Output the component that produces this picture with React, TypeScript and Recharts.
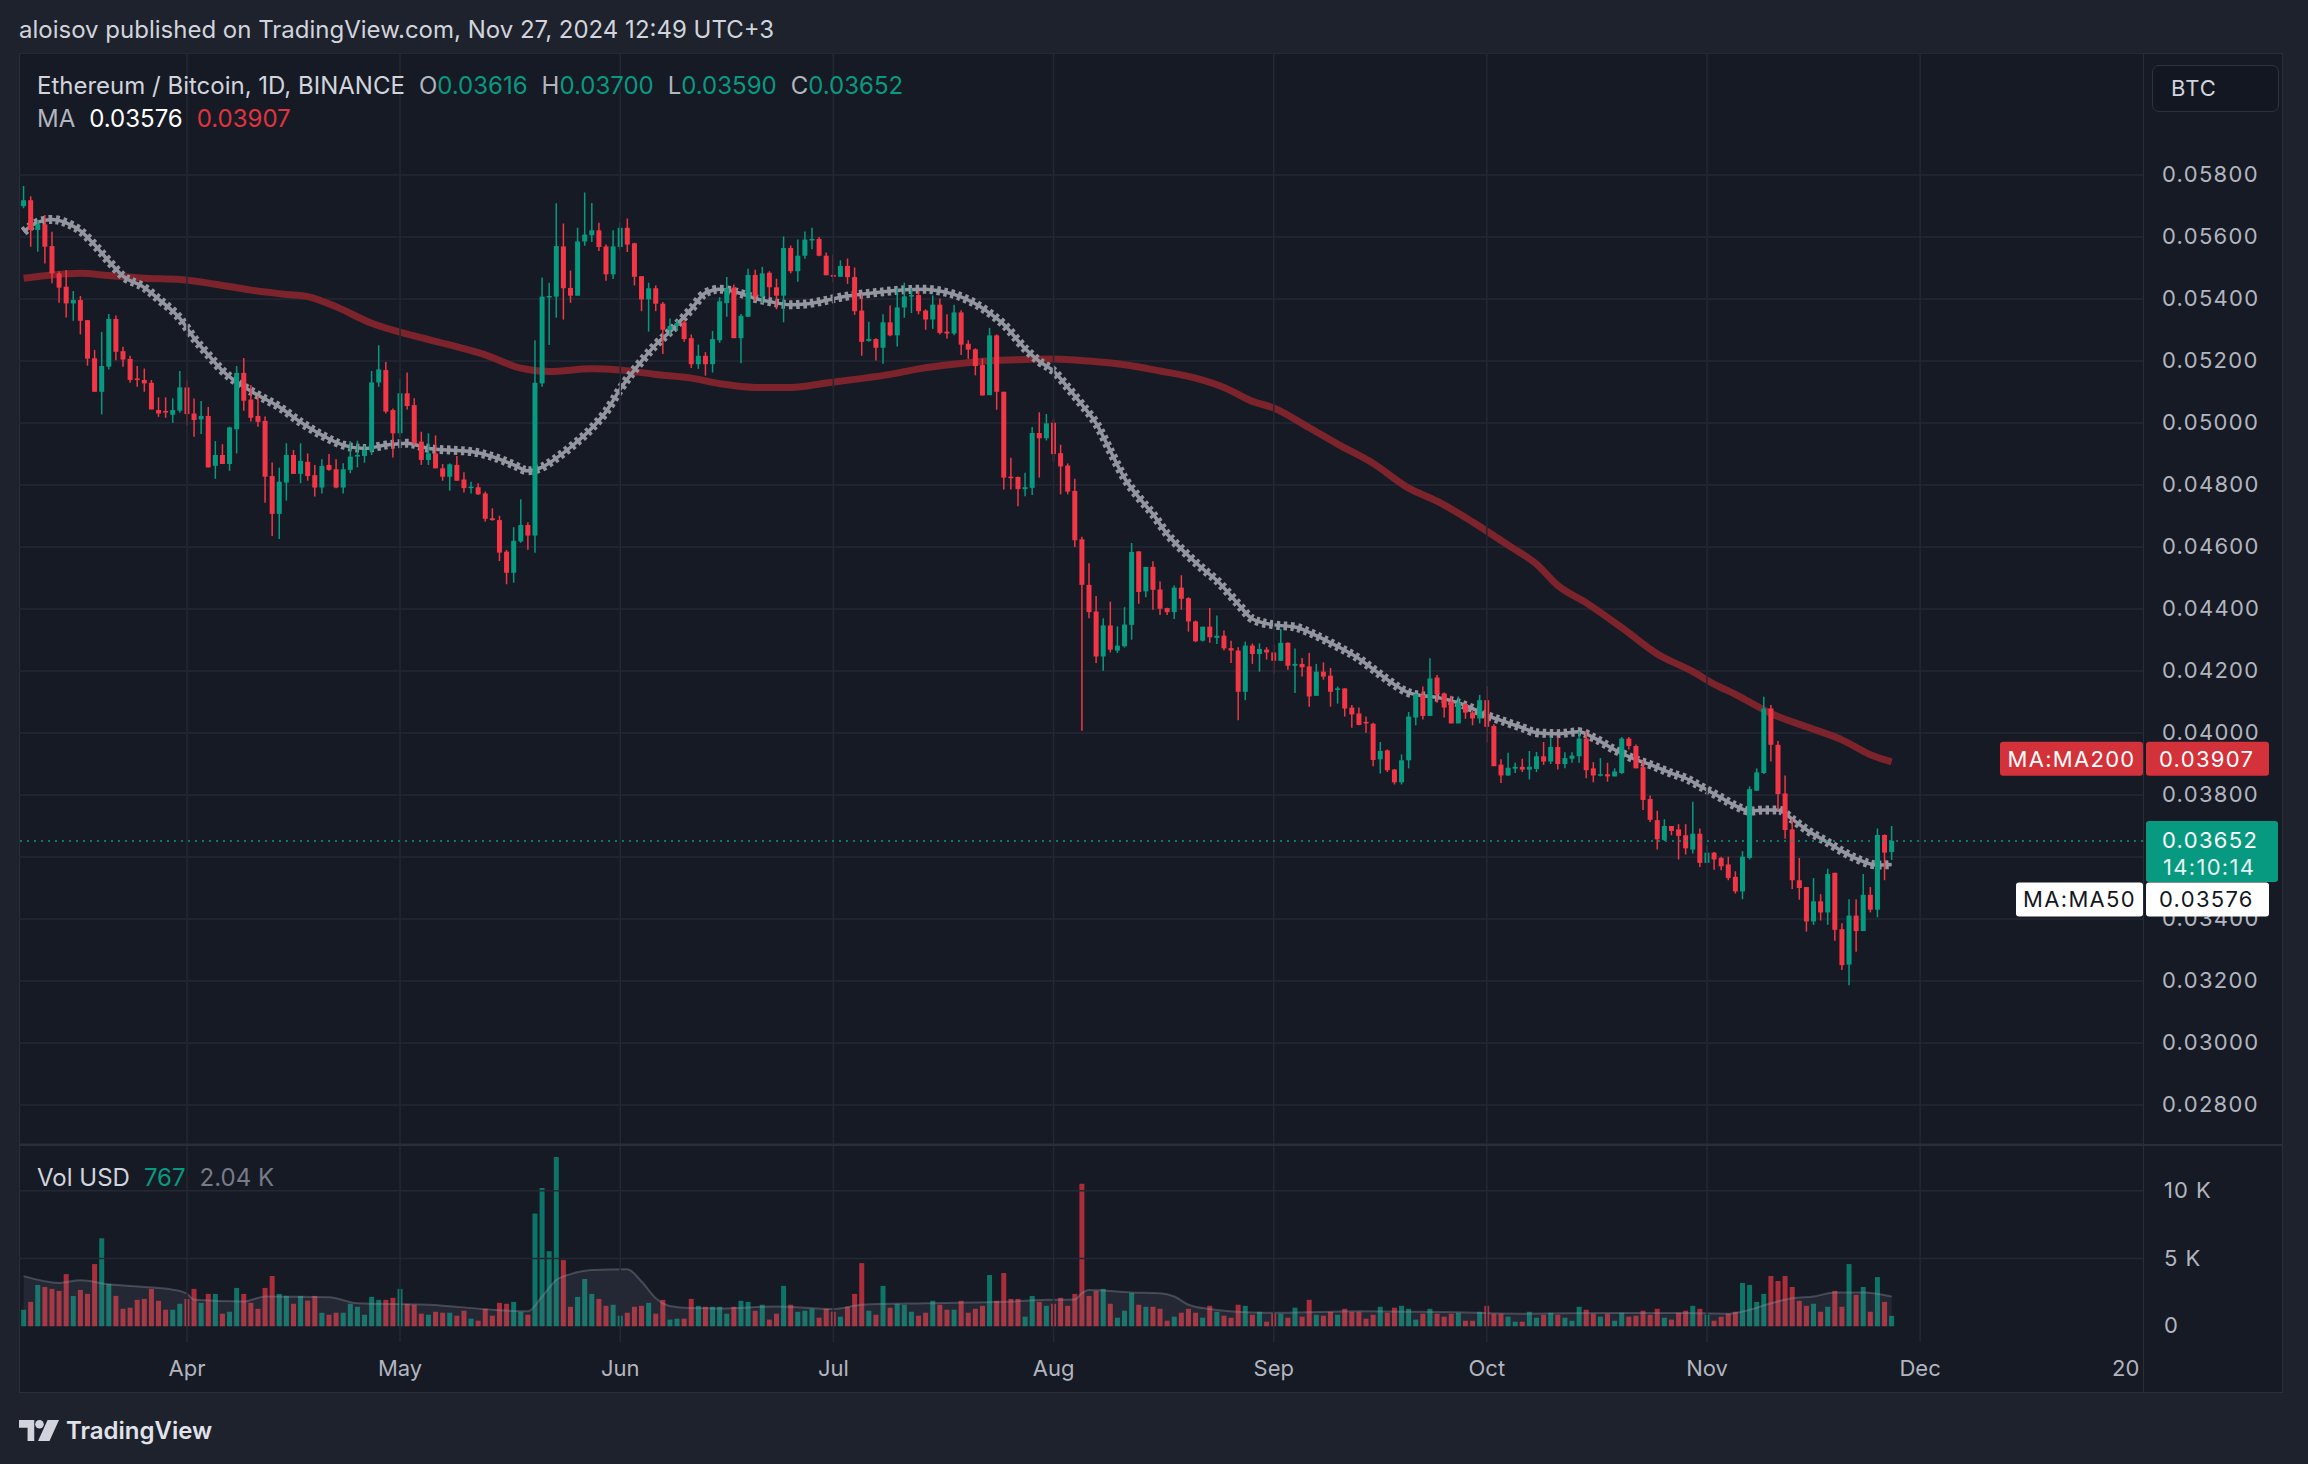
import React from 'react';
import { ComposedChart, Bar, Line, Area, XAxis, YAxis, CartesianGrid, ReferenceLine, Cell } from 'recharts';

// ETH/BTC daily candles, day 0 = Mar 9 2024, last = Nov 27 2024
const opens = [
  0.05700, 0.05719, 0.05623, 0.05641, 0.05571, 0.05483, 0.05440, 0.05386, 0.05397, 0.05332,
  0.05209, 0.05101, 0.05182, 0.05336, 0.05232, 0.05207, 0.05144, 0.05139, 0.05130, 0.05042,
  0.05039, 0.05027, 0.05040, 0.05115, 0.05031, 0.05012, 0.05023, 0.04862, 0.04897, 0.04868,
  0.04980, 0.05162, 0.05076, 0.05023, 0.05007, 0.04829, 0.04707, 0.04808, 0.04897, 0.04836,
  0.04875, 0.04832, 0.04792, 0.04865, 0.04851, 0.04792, 0.04849, 0.04892, 0.04894, 0.04911,
  0.05131, 0.05171, 0.05042, 0.04967, 0.05096, 0.05058, 0.04940, 0.04881, 0.04902, 0.04854,
  0.04827, 0.04865, 0.04818, 0.04790, 0.04793, 0.04773, 0.04693, 0.04687, 0.04585, 0.04517,
  0.04618, 0.04671, 0.04637, 0.05128, 0.05406, 0.05408, 0.05570, 0.05436, 0.05411, 0.05586,
  0.05606, 0.05622, 0.05570, 0.05480, 0.05568, 0.05630, 0.05580, 0.05474, 0.05399, 0.05435,
  0.05385, 0.05301, 0.05313, 0.05325, 0.05274, 0.05190, 0.05217, 0.05190, 0.05267, 0.05387,
  0.05437, 0.05274, 0.05343, 0.05478, 0.05408, 0.05485, 0.05438, 0.05411, 0.05565, 0.05490,
  0.05540, 0.05590, 0.05594, 0.05540, 0.05478, 0.05472, 0.05507, 0.05471, 0.05363, 0.05265,
  0.05271, 0.05243, 0.05325, 0.05283, 0.05373, 0.05409, 0.05413, 0.05363, 0.05334, 0.05382,
  0.05295, 0.05289, 0.05357, 0.05256, 0.05238, 0.05187, 0.05090, 0.05283, 0.05101, 0.04827,
  0.04826, 0.04787, 0.04791, 0.04968, 0.04951, 0.05001, 0.04903, 0.04863, 0.04781, 0.04625,
  0.04478, 0.04392, 0.04247, 0.04347, 0.04266, 0.04280, 0.04349, 0.04586, 0.04457, 0.04536,
  0.04463, 0.04403, 0.04390, 0.04469, 0.04435, 0.04360, 0.04298, 0.04343, 0.04307, 0.04314,
  0.04274, 0.04266, 0.04133, 0.04282, 0.04255, 0.04269, 0.04260, 0.04233, 0.04291, 0.04217,
  0.04223, 0.04215, 0.04120, 0.04198, 0.04185, 0.04139, 0.04144, 0.04082, 0.04063, 0.04036,
  0.04030, 0.03915, 0.03944, 0.03882, 0.03841, 0.03912, 0.04050, 0.04123, 0.04055, 0.04179,
  0.04128, 0.04101, 0.04031, 0.04093, 0.04066, 0.04047, 0.04106, 0.04023, 0.03898, 0.03863,
  0.03885, 0.03891, 0.03882, 0.03884, 0.03925, 0.03908, 0.03955, 0.03900, 0.03917, 0.03925,
  0.03982, 0.03886, 0.03863, 0.03867, 0.03860, 0.03871, 0.03982, 0.03958, 0.03890, 0.03787,
  0.03719, 0.03655, 0.03700, 0.03689, 0.03670, 0.03624, 0.03675, 0.03581, 0.03614, 0.03597,
  0.03576, 0.03536, 0.03489, 0.03597, 0.03814, 0.03871, 0.04079, 0.03962, 0.03805, 0.03689,
  0.03525, 0.03503, 0.03392, 0.03457, 0.03421, 0.03549, 0.03367, 0.03253, 0.03411, 0.03361,
  0.03478, 0.03430, 0.03671, 0.03616,
];

const highs = [
  0.05765, 0.05732, 0.05655, 0.05671, 0.05617, 0.05490, 0.05494, 0.05426, 0.05410, 0.05332,
  0.05236, 0.05294, 0.05352, 0.05347, 0.05246, 0.05217, 0.05184, 0.05176, 0.05139, 0.05083,
  0.05083, 0.05080, 0.05168, 0.05137, 0.05079, 0.05071, 0.05052, 0.04942, 0.04932, 0.04988,
  0.05184, 0.05210, 0.05123, 0.05087, 0.05021, 0.04873, 0.04856, 0.04935, 0.04913, 0.04935,
  0.04902, 0.04865, 0.04883, 0.04900, 0.04883, 0.04870, 0.04942, 0.04943, 0.04929, 0.05168,
  0.05251, 0.05197, 0.05047, 0.05141, 0.05163, 0.05080, 0.04972, 0.04967, 0.04960, 0.04868,
  0.04870, 0.04894, 0.04841, 0.04811, 0.04806, 0.04779, 0.04725, 0.04701, 0.04591, 0.04664,
  0.04754, 0.04680, 0.05267, 0.05470, 0.05453, 0.05709, 0.05644, 0.05492, 0.05630, 0.05744,
  0.05710, 0.05646, 0.05576, 0.05622, 0.05646, 0.05660, 0.05582, 0.05474, 0.05453, 0.05444,
  0.05391, 0.05337, 0.05331, 0.05331, 0.05286, 0.05253, 0.05229, 0.05297, 0.05406, 0.05471,
  0.05447, 0.05352, 0.05498, 0.05495, 0.05504, 0.05490, 0.05466, 0.05602, 0.05573, 0.05592,
  0.05618, 0.05630, 0.05600, 0.05550, 0.05543, 0.05525, 0.05531, 0.05502, 0.05414, 0.05327,
  0.05274, 0.05351, 0.05379, 0.05435, 0.05453, 0.05435, 0.05426, 0.05367, 0.05412, 0.05402,
  0.05351, 0.05382, 0.05364, 0.05267, 0.05241, 0.05208, 0.05307, 0.05286, 0.05101, 0.04888,
  0.04828, 0.04840, 0.04987, 0.05035, 0.05029, 0.05013, 0.04930, 0.04870, 0.04820, 0.04633,
  0.04548, 0.04442, 0.04370, 0.04424, 0.04344, 0.04406, 0.04613, 0.04586, 0.04536, 0.04554,
  0.04489, 0.04404, 0.04476, 0.04509, 0.04438, 0.04363, 0.04343, 0.04403, 0.04379, 0.04331,
  0.04298, 0.04277, 0.04295, 0.04289, 0.04289, 0.04277, 0.04285, 0.04336, 0.04293, 0.04273,
  0.04242, 0.04258, 0.04223, 0.04228, 0.04210, 0.04150, 0.04144, 0.04090, 0.04082, 0.04053,
  0.04033, 0.03971, 0.03947, 0.03884, 0.03931, 0.04068, 0.04128, 0.04150, 0.04241, 0.04187,
  0.04131, 0.04120, 0.04118, 0.04096, 0.04071, 0.04123, 0.04150, 0.04028, 0.03915, 0.03936,
  0.03904, 0.03917, 0.03942, 0.03939, 0.03971, 0.03987, 0.03987, 0.03938, 0.03938, 0.04005,
  0.04005, 0.03906, 0.03919, 0.03904, 0.03886, 0.03987, 0.03987, 0.03963, 0.03911, 0.03798,
  0.03749, 0.03722, 0.03700, 0.03706, 0.03706, 0.03778, 0.03692, 0.03638, 0.03616, 0.03601,
  0.03601, 0.03554, 0.03619, 0.03828, 0.03886, 0.04117, 0.04090, 0.03974, 0.03863, 0.03722,
  0.03597, 0.03503, 0.03532, 0.03480, 0.03562, 0.03549, 0.03386, 0.03464, 0.03464, 0.03545,
  0.03503, 0.03692, 0.03673, 0.03700,
];

const lows = [
  0.05693, 0.05569, 0.05553, 0.05515, 0.05451, 0.05388, 0.05341, 0.05330, 0.05286, 0.05185,
  0.05101, 0.05028, 0.05173, 0.05203, 0.05182, 0.05130, 0.05117, 0.05101, 0.05044, 0.05020,
  0.05017, 0.05001, 0.05033, 0.04992, 0.04956, 0.04965, 0.04857, 0.04820, 0.04868, 0.04846,
  0.04902, 0.05040, 0.05005, 0.04988, 0.04743, 0.04636, 0.04626, 0.04750, 0.04836, 0.04806,
  0.04814, 0.04763, 0.04773, 0.04846, 0.04790, 0.04773, 0.04838, 0.04857, 0.04872, 0.04897,
  0.05117, 0.05031, 0.04889, 0.04954, 0.05044, 0.04929, 0.04865, 0.04865, 0.04854, 0.04814,
  0.04782, 0.04814, 0.04776, 0.04773, 0.04768, 0.04682, 0.04685, 0.04555, 0.04480, 0.04485,
  0.04614, 0.04591, 0.04582, 0.05117, 0.05252, 0.05340, 0.05334, 0.05388, 0.05411, 0.05572,
  0.05584, 0.05555, 0.05459, 0.05465, 0.05558, 0.05552, 0.05444, 0.05361, 0.05295, 0.05361,
  0.05223, 0.05283, 0.05298, 0.05262, 0.05178, 0.05175, 0.05153, 0.05163, 0.05259, 0.05343,
  0.05274, 0.05193, 0.05343, 0.05394, 0.05387, 0.05406, 0.05367, 0.05325, 0.05483, 0.05456,
  0.05530, 0.05561, 0.05538, 0.05477, 0.05454, 0.05472, 0.05449, 0.05349, 0.05217, 0.05262,
  0.05202, 0.05191, 0.05280, 0.05247, 0.05340, 0.05355, 0.05351, 0.05301, 0.05304, 0.05286,
  0.05273, 0.05283, 0.05220, 0.05207, 0.05154, 0.05089, 0.05090, 0.05043, 0.04786, 0.04786,
  0.04732, 0.04764, 0.04768, 0.04824, 0.04944, 0.04876, 0.04770, 0.04770, 0.04600, 0.04007,
  0.04370, 0.04226, 0.04201, 0.04260, 0.04258, 0.04276, 0.04301, 0.04417, 0.04438, 0.04398,
  0.04381, 0.04381, 0.04368, 0.04398, 0.04327, 0.04293, 0.04295, 0.04291, 0.04287, 0.04266,
  0.04226, 0.04041, 0.04106, 0.04223, 0.04198, 0.04237, 0.04190, 0.04233, 0.04204, 0.04129,
  0.04182, 0.04085, 0.04120, 0.04172, 0.04085, 0.04095, 0.04053, 0.04017, 0.04025, 0.04001,
  0.03893, 0.03869, 0.03874, 0.03834, 0.03834, 0.03886, 0.04025, 0.04044, 0.04055, 0.04098,
  0.04050, 0.04031, 0.04031, 0.04046, 0.04025, 0.04031, 0.03969, 0.03893, 0.03839, 0.03861,
  0.03871, 0.03874, 0.03850, 0.03874, 0.03897, 0.03900, 0.03882, 0.03886, 0.03904, 0.03904,
  0.03854, 0.03841, 0.03860, 0.03843, 0.03860, 0.03868, 0.03947, 0.03886, 0.03752, 0.03713,
  0.03624, 0.03652, 0.03670, 0.03592, 0.03608, 0.03611, 0.03568, 0.03581, 0.03559, 0.03557,
  0.03525, 0.03482, 0.03464, 0.03592, 0.03814, 0.03868, 0.03908, 0.03752, 0.03659, 0.03497,
  0.03462, 0.03359, 0.03381, 0.03395, 0.03381, 0.03330, 0.03235, 0.03186, 0.03294, 0.03361,
  0.03421, 0.03405, 0.03525, 0.03590,
];

const closes = [
  0.05719, 0.05623, 0.05641, 0.05569, 0.05483, 0.05437, 0.05386, 0.05397, 0.05330, 0.05208,
  0.05101, 0.05184, 0.05336, 0.05230, 0.05205, 0.05139, 0.05141, 0.05128, 0.05044, 0.05031,
  0.05034, 0.05042, 0.05115, 0.05029, 0.05010, 0.05023, 0.04857, 0.04897, 0.04868, 0.04986,
  0.05162, 0.05072, 0.05017, 0.05004, 0.04827, 0.04707, 0.04811, 0.04897, 0.04836, 0.04878,
  0.04829, 0.04792, 0.04862, 0.04849, 0.04792, 0.04851, 0.04892, 0.04897, 0.04913, 0.05131,
  0.05173, 0.05037, 0.04967, 0.05096, 0.05055, 0.04935, 0.04881, 0.04902, 0.04854, 0.04827,
  0.04867, 0.04814, 0.04790, 0.04795, 0.04770, 0.04691, 0.04687, 0.04582, 0.04517, 0.04620,
  0.04671, 0.04637, 0.05130, 0.05408, 0.05410, 0.05571, 0.05435, 0.05411, 0.05586, 0.05608,
  0.05622, 0.05568, 0.05480, 0.05570, 0.05630, 0.05576, 0.05472, 0.05399, 0.05435, 0.05385,
  0.05301, 0.05313, 0.05322, 0.05271, 0.05190, 0.05217, 0.05190, 0.05271, 0.05393, 0.05435,
  0.05274, 0.05346, 0.05478, 0.05408, 0.05483, 0.05438, 0.05411, 0.05565, 0.05490, 0.05540,
  0.05592, 0.05594, 0.05540, 0.05477, 0.05472, 0.05507, 0.05471, 0.05361, 0.05262, 0.05271,
  0.05243, 0.05325, 0.05283, 0.05373, 0.05409, 0.05413, 0.05361, 0.05334, 0.05382, 0.05291,
  0.05289, 0.05357, 0.05253, 0.05237, 0.05184, 0.05089, 0.05283, 0.05101, 0.04824, 0.04823,
  0.04787, 0.04793, 0.04968, 0.04951, 0.04999, 0.04900, 0.04860, 0.04779, 0.04622, 0.04478,
  0.04390, 0.04247, 0.04347, 0.04269, 0.04282, 0.04350, 0.04584, 0.04455, 0.04536, 0.04462,
  0.04401, 0.04390, 0.04469, 0.04433, 0.04360, 0.04296, 0.04343, 0.04309, 0.04314, 0.04273,
  0.04266, 0.04133, 0.04282, 0.04255, 0.04271, 0.04260, 0.04233, 0.04291, 0.04217, 0.04223,
  0.04212, 0.04118, 0.04198, 0.04182, 0.04133, 0.04144, 0.04079, 0.04060, 0.04026, 0.04031,
  0.03913, 0.03942, 0.03880, 0.03841, 0.03912, 0.04053, 0.04125, 0.04055, 0.04176, 0.04125,
  0.04082, 0.04031, 0.04098, 0.04066, 0.04047, 0.04106, 0.04020, 0.03893, 0.03863, 0.03888,
  0.03891, 0.03882, 0.03891, 0.03925, 0.03908, 0.03955, 0.03900, 0.03919, 0.03927, 0.03982,
  0.03880, 0.03863, 0.03867, 0.03860, 0.03876, 0.03982, 0.03958, 0.03886, 0.03784, 0.03720,
  0.03657, 0.03700, 0.03684, 0.03668, 0.03628, 0.03675, 0.03581, 0.03614, 0.03592, 0.03570,
  0.03532, 0.03489, 0.03601, 0.03819, 0.03873, 0.04079, 0.03962, 0.03803, 0.03687, 0.03525,
  0.03500, 0.03392, 0.03457, 0.03421, 0.03545, 0.03365, 0.03251, 0.03411, 0.03361, 0.03478,
  0.03430, 0.03671, 0.03614, 0.03652,
];

// volume in thousands (USD)
const volumes = [
  1.22, 1.80, 3.05, 2.90, 2.76, 2.61, 3.85, 2.24, 2.68, 2.39,
  4.59, 6.49, 3.12, 2.24, 1.29, 1.37, 1.95, 2.02, 2.76, 1.88,
  1.22, 1.22, 1.66, 2.02, 2.76, 1.73, 2.39, 2.39, 0.93, 1.07,
  2.83, 2.39, 1.73, 1.29, 2.83, 3.71, 2.39, 2.24, 1.66, 2.24,
  1.90, 2.24, 1.00, 0.85, 1.00, 1.00, 1.66, 1.44, 0.85, 2.17,
  1.95, 1.95, 2.10, 2.76, 1.66, 1.59, 0.93, 0.85, 1.07, 1.00,
  1.00, 0.78, 1.15, 0.56, 0.41, 1.29, 0.78, 1.73, 1.66, 1.80,
  1.07, 0.85, 8.32, 10.2, 5.54, 12.49, 4.88, 1.44, 2.17, 3.49,
  2.39, 2.02, 1.51, 1.59, 0.78, 1.00, 1.44, 1.51, 1.73, 0.93,
  1.95, 0.49, 0.56, 0.56, 2.02, 1.51, 1.44, 1.44, 1.44, 0.93,
  1.44, 1.88, 1.80, 1.15, 1.59, 0.49, 0.93, 2.98, 1.59, 1.07,
  1.15, 1.29, 0.63, 1.29, 1.07, 0.71, 1.44, 2.39, 4.66, 1.15,
  0.85, 2.98, 1.37, 1.66, 1.59, 1.07, 0.78, 1.00, 1.88, 1.59,
  1.22, 1.22, 1.88, 1.00, 1.29, 1.51, 3.78, 1.88, 3.93, 2.02,
  2.02, 0.71, 2.24, 1.80, 1.51, 1.66, 2.10, 1.51, 2.39, 10.51,
  2.24, 2.61, 2.76, 1.66, 0.63, 1.15, 2.46, 1.59, 1.44, 1.44,
  1.29, 0.41, 0.71, 1.00, 1.29, 1.00, 0.63, 1.51, 1.07, 0.78,
  0.63, 1.59, 1.51, 0.85, 1.07, 0.34, 0.93, 0.93, 0.63, 1.37,
  0.71, 1.95, 0.85, 0.78, 1.07, 0.85, 1.29, 1.07, 1.07, 0.56,
  0.85, 1.44, 1.00, 1.37, 1.51, 1.29, 0.49, 0.93, 1.29, 0.93,
  0.71, 0.93, 1.00, 0.41, 0.41, 1.07, 1.51, 0.93, 0.93, 0.71,
  0.34, 0.34, 1.07, 0.63, 0.85, 1.00, 0.85, 0.63, 0.41, 1.44,
  1.22, 0.93, 0.71, 0.93, 0.41, 1.00, 0.71, 0.78, 1.15, 0.85,
  1.29, 0.63, 0.49, 1.00, 1.15, 1.51, 1.29, 0.85, 0.41, 0.71,
  0.93, 1.07, 3.20, 3.05, 1.80, 2.39, 3.71, 3.34, 3.71, 2.90,
  1.88, 1.51, 1.66, 1.07, 1.44, 2.61, 1.44, 4.59, 2.32, 2.90,
  1.07, 3.63, 1.80, 0.767,
];

// moving averages at sample days
const ma50Days = [0, 2, 4, 6, 8, 10, 12, 14, 17, 19, 22, 24, 26, 28, 30, 33, 36, 39, 42, 45, 48, 51, 54, 57, 60, 63, 66, 69, 71, 73, 75, 77, 80, 82, 84, 87, 89, 91, 94, 96, 98, 101, 103, 105, 108, 110, 113, 115, 117, 120, 122, 124, 127, 129, 131, 134, 136, 138, 141, 143, 145, 147, 149, 151, 153, 155, 157, 159, 161, 163, 166, 168, 171, 173, 176, 179, 181, 183, 185, 188, 190, 192, 195, 197, 199, 202, 204, 206, 209, 211, 213, 216, 219, 221, 224, 227, 229, 232, 234, 236, 239, 241, 243, 245, 247, 249, 251, 254, 256, 258, 261, 263];
const ma50Values = [0.05617, 0.05648, 0.05657, 0.05646, 0.05620, 0.05575, 0.05522, 0.05474, 0.05437, 0.05400, 0.05338, 0.05274, 0.05220, 0.05169, 0.05132, 0.05090, 0.05052, 0.05003, 0.04961, 0.04929, 0.04918, 0.04929, 0.04935, 0.04918, 0.04913, 0.04908, 0.04892, 0.04865, 0.04846, 0.04858, 0.04887, 0.04922, 0.04984, 0.05037, 0.05110, 0.05200, 0.05253, 0.05295, 0.05368, 0.05420, 0.05432, 0.05418, 0.05402, 0.05392, 0.05382, 0.05384, 0.05396, 0.05406, 0.05413, 0.05421, 0.05426, 0.05430, 0.05432, 0.05426, 0.05415, 0.05385, 0.05355, 0.05318, 0.05240, 0.05199, 0.05168, 0.05115, 0.05059, 0.04999, 0.04910, 0.04822, 0.04760, 0.04706, 0.04642, 0.04594, 0.04530, 0.04492, 0.04416, 0.04368, 0.04349, 0.04342, 0.04325, 0.04303, 0.04279, 0.04240, 0.04206, 0.04172, 0.04130, 0.04120, 0.04115, 0.04097, 0.04079, 0.04057, 0.04033, 0.04017, 0.04001, 0.03998, 0.04004, 0.03985, 0.03946, 0.03914, 0.03898, 0.03870, 0.03854, 0.03829, 0.03791, 0.03765, 0.03748, 0.03752, 0.03752, 0.03722, 0.03688, 0.03647, 0.03619, 0.03595, 0.03574, 0.03576];

const ma200Days = [0, 4, 8, 12, 17, 22, 27, 32, 37, 40, 44, 49, 55, 60, 65, 70, 74, 80, 84, 89, 94, 98, 103, 108, 113, 117, 122, 126, 131, 136, 141, 145, 150, 155, 160, 165, 169, 173, 176, 181, 185, 190, 195, 199, 204, 209, 213, 216, 220, 225, 230, 235, 238, 241, 246, 251, 256, 260, 263];
const ma200Values = [0.05467, 0.05478, 0.05483, 0.05476, 0.05467, 0.05463, 0.05448, 0.05429, 0.05415, 0.05408, 0.05375, 0.05322, 0.05281, 0.05252, 0.05220, 0.05177, 0.05166, 0.05175, 0.05171, 0.05157, 0.05145, 0.05127, 0.05115, 0.05115, 0.05129, 0.05141, 0.05157, 0.05175, 0.05190, 0.05201, 0.05205, 0.05207, 0.05200, 0.05188, 0.05168, 0.05145, 0.05115, 0.05070, 0.05049, 0.04985, 0.04932, 0.04870, 0.04790, 0.04748, 0.04681, 0.04606, 0.04545, 0.04476, 0.04420, 0.04340, 0.04255, 0.04198, 0.04158, 0.04125, 0.04063, 0.04020, 0.03978, 0.03930, 0.03907];

const volMaDays = [0, 5, 8, 12, 17, 21, 23, 24, 31, 34, 43, 47, 57, 66, 71, 73, 75, 77, 80, 85, 87, 89, 91, 94, 98, 106, 114, 118, 127, 139, 144, 148, 149, 150, 156, 160, 162, 164, 167, 173, 177, 188, 200, 211, 223, 234, 240, 243, 246, 249, 252, 255, 259, 263];
const volMaValues = [3.7, 3.2, 3.4, 3.1, 2.9, 2.7, 2.4, 1.95, 1.83, 2.2, 2.15, 1.7, 1.59, 1.22, 1.1, 2.2, 3.41, 3.85, 4.15, 4.2, 3.3, 2.07, 1.5, 1.34, 1.32, 1.46, 1.27, 1.59, 1.7, 1.83, 1.95, 1.98, 2.45, 2.68, 2.5, 2.44, 2.2, 1.59, 1.27, 1.02, 1.0, 1.1, 1.05, 0.93, 0.98, 0.98, 0.93, 1.22, 1.7, 2.07, 2.2, 2.49, 2.49, 2.2];

const monthTicks = [23, 53, 84, 114, 145, 176, 206, 237, 267, 298];
const monthLabels = ['Apr', 'May', 'Jun', 'Jul', 'Aug', 'Sep', 'Oct', 'Nov', 'Dec', '20'];
const priceTicks = [0.028, 0.030, 0.032, 0.034, 0.036, 0.038, 0.040, 0.042, 0.044, 0.046, 0.048, 0.050, 0.052, 0.054, 0.056, 0.058];
const volumeTicks = [0, 5, 10];

const GREEN = '#089981';
const RED = '#f23645';
const GRID = '#242834';
const BG = '#161a25';
const FRAME = '#1e222d';
const TEXT = '#b2b5be';
const FONT = "Inter, 'Noto Sans', Roboto, sans-serif";
const X_DOMAIN: [number, number] = [-0.65, 298.38];
const PRICE_DOMAIN: [number, number] = [0.02674, 0.06194];

const rows = closes.map((c, i) => ({
  day: i,
  open: opens[i],
  high: highs[i],
  low: lows[i],
  close: c,
  range: [lows[i], highs[i]],
  vol: volumes[i],
} as any));
ma50Days.forEach((d, k) => { rows[d].ma50 = ma50Values[k]; });
ma200Days.forEach((d, k) => { rows[d].ma200 = ma200Values[k]; });
volMaDays.forEach((d, k) => { rows[d].volMa = volMaValues[k]; });

const last = rows[rows.length - 1];
const lastMa50 = ma50Values[ma50Values.length - 1];
const lastMa200 = ma200Values[ma200Values.length - 1];

const Candle = (props: any) => {
  const { x, y, width, height, payload } = props;
  if (x == null || y == null) return null;
  const { open, close, high, low } = payload;
  const color = close >= open ? GREEN : RED;
  const k = height / Math.max(high - low, 1e-9);
  const yOf = (v: number) => y + (high - v) * k;
  const top = yOf(Math.max(open, close));
  const bot = yOf(Math.min(open, close));
  const cx = x + width / 2;
  return (
    <g>
      <line x1={cx} x2={cx} y1={y} y2={y + height} stroke={color} strokeWidth={1.5} />
      <rect x={x} y={top} width={width} height={Math.max(bot - top, 1.5)} fill={color} />
    </g>
  );
};

const PriceTick = (props: any) => {
  const { x, y, payload } = props;
  return (
    <text x={x} y={y} dy={7} textAnchor="start" fill={TEXT} fontSize={22} letterSpacing={1.3} fontFamily={FONT}>
      {payload.value.toFixed(5)}
    </text>
  );
};

const VolTick = (props: any) => {
  const { x, y, payload } = props;
  const v = payload.value;
  return (
    <text x={x} y={y} dy={7} textAnchor="start" fill={TEXT} fontSize={22} letterSpacing={1} fontFamily={FONT}>
      {v === 0 ? '0' : `${v} K`}
    </text>
  );
};

const TimeTick = (props: any) => {
  const { x, y, payload } = props;
  const i = monthTicks.indexOf(payload.value);
  const isLast = i === monthTicks.length - 1;
  return (
    <text x={isLast ? x - 1 : x} y={y} dy={26} dominantBaseline="central" textAnchor={isLast ? 'end' : 'middle'} fill={TEXT} fontSize={22} fontFamily={FONT}>
      {monthLabels[i]}
    </text>
  );
};

const CloseTag = (props: any) => {
  const { viewBox } = props;
  const ax = viewBox.x + viewBox.width + 3;
  const y = viewBox.y;
  return (
    <g fontFamily={FONT}>
      <rect x={ax} y={y - 20} width={132} height={61} rx={3} fill={GREEN} />
      <text x={ax + 16} y={y - 1} fill="#ffffff" fontSize={22} letterSpacing={1.3} dominantBaseline="central">{last.close.toFixed(5)}</text>
      <text x={ax + 17} y={y + 26} fill="#e6f4f1" fontSize={22} letterSpacing={1.3} dominantBaseline="central">14:10:14</text>
    </g>
  );
};

const MaTag = (props: any) => {
  const { viewBox, name, value, fill, color, labelWidth, shift } = props;
  const ax = viewBox.x + viewBox.width;
  const y = viewBox.y + shift;
  return (
    <g fontFamily={FONT}>
      <rect x={ax - labelWidth} y={y - 17} width={labelWidth} height={34} rx={3} fill={fill} />
      <rect x={ax + 3} y={y - 17} width={123} height={34} rx={3} fill={fill} />
      <text x={ax - labelWidth / 2} y={y} fill={color} fontSize={22} letterSpacing={1.3} textAnchor="middle" dominantBaseline="central">{name}</text>
      <text x={ax + 16} y={y} fill={color} fontSize={22} letterSpacing={1.3} dominantBaseline="central">{value.toFixed(5)}</text>
    </g>
  );
};

const Logo = () => (
  <svg width={40} height={21} viewBox="0 0 42 22" style={{ display: 'block' }}>
    <path d="M0 0h16v22H9V8H0z" fill="#d1d4dc" />
    <circle cx={21.5} cy={4.5} r={4.5} fill="#d1d4dc" />
    <path d="M30 0h12l-10 22H20z" fill="#d1d4dc" />
  </svg>
);

const abs = (l: number, t: number, extra: any = {}) => ({ position: 'absolute' as const, left: l, top: t, ...extra });

export default function App() {
  return (
    <div style={{ position: 'absolute', left: 0, top: 0, width: 2308, height: 1464, background: FRAME, fontFamily: FONT, overflow: 'hidden' }}>
      <div style={abs(19, 13, { color: '#d1d4dc', fontSize: 24, lineHeight: '34px' })}>
        aloisov published on TradingView.com, Nov 27, 2024 12:49 UTC+3
      </div>

      {/* chart frame */}
      <div style={abs(19, 53, { width: 2264, height: 1340, background: BG, boxSizing: 'border-box', border: '1px solid #2a2e39' })} />
      <div style={abs(2143, 53, { width: 1, height: 1340, background: '#2a2e39' })} />
      <div style={abs(19, 1144, { width: 2264, height: 2, background: '#2a2e39' })} />

      <div style={abs(19, 53)}>
        <ComposedChart width={2264} height={1091} data={rows} margin={{ top: 0, right: 0, bottom: 0, left: 0 }}>
          <CartesianGrid vertical={false} stroke={GRID} strokeWidth={1.5} />
          <XAxis type="number" dataKey="day" domain={X_DOMAIN} allowDataOverflow hide />
          <YAxis
            orientation="right"
            width={140}
            domain={PRICE_DOMAIN}
            ticks={priceTicks}
            interval={0}
            axisLine={false}
            tickLine={false}
            tickSize={0}
            tickMargin={19}
            tick={<PriceTick />}
          />
          {monthTicks.slice(0, 9).map((d) => (
            <ReferenceLine key={d} x={d} stroke={GRID} strokeWidth={1.5} />
          ))}
          <ReferenceLine y={last.close} stroke={GREEN} strokeWidth={1.5} strokeDasharray="2 5" />
          <Line dataKey="ma200" type="monotone" stroke="#7c232b" strokeWidth={7} dot={false} activeDot={false} connectNulls isAnimationActive={false} zIndex={250} />
          <Line dataKey="ma50" type="monotone" stroke="#93969f" strokeWidth={3.5} dot={false} activeDot={false} connectNulls isAnimationActive={false} zIndex={250} />
          <Line dataKey="ma50" type="monotone" stroke="#93969f" strokeWidth={9} strokeDasharray="3.5 3.6" dot={false} activeDot={false} connectNulls isAnimationActive={false} zIndex={250} />
          <Bar dataKey="range" barSize={5} shape={<Candle />} isAnimationActive={false} />
        </ComposedChart>
      </div>

      {/* price tags drawn over the axis labels */}
      <div style={abs(19, 53, { pointerEvents: 'none' })}>
        <ComposedChart width={2264} height={1091} data={rows} margin={{ top: 0, right: 0, bottom: 0, left: 0 }}>
          <XAxis type="number" dataKey="day" domain={X_DOMAIN} allowDataOverflow hide />
          <YAxis orientation="right" width={140} domain={PRICE_DOMAIN} allowDataOverflow tick={false} axisLine={false} tickLine={false} />
          <Line dataKey="close" stroke="transparent" strokeWidth={0} dot={false} activeDot={false} isAnimationActive={false} />
          <ReferenceLine y={last.close} stroke="transparent" label={(p: any) => <CloseTag {...p} />} />
          <ReferenceLine y={lastMa200} stroke="transparent" label={(p: any) => <MaTag {...p} name="MA:MA200" value={lastMa200} fill="#d3323a" color="#ffffff" labelWidth={143} shift={-3} />} />
          <ReferenceLine y={lastMa50} stroke="transparent" label={(p: any) => <MaTag {...p} name="MA:MA50" value={lastMa50} fill="#ffffff" color="#131722" labelWidth={127} shift={35} />} />
        </ComposedChart>
      </div>

      <div style={abs(19, 1146)}>
        <ComposedChart width={2264} height={247} data={rows} margin={{ top: 0, right: 0, bottom: 0, left: 0 }}>
          <XAxis
            type="number"
            dataKey="day"
            domain={X_DOMAIN}
            allowDataOverflow
            ticks={monthTicks}
            interval={0}
            height={51}
            axisLine={false}
            tickLine={false}
            tickSize={0}
            tickMargin={0}
            tick={<TimeTick />}
          />
          <YAxis
            orientation="right"
            width={140}
            domain={[-1.16, 13.3]}
            ticks={volumeTicks}
            interval={0}
            axisLine={false}
            tickLine={false}
            tickSize={0}
            tickMargin={21}
            tick={<VolTick />}
          />
          {monthTicks.slice(0, 9).map((d) => (
            <ReferenceLine key={d} x={d} stroke={GRID} strokeWidth={1.5} />
          ))}
          <ReferenceLine y={5} stroke={GRID} strokeWidth={1.5} />
          <ReferenceLine y={10} stroke={GRID} strokeWidth={1.5} />
          <Bar dataKey="vol" barSize={5} isAnimationActive={false}>
            {rows.map((r: any) => (
              <Cell key={r.day} fill={r.close >= r.open ? 'rgba(8,153,129,0.72)' : 'rgba(242,54,69,0.68)'} />
            ))}
          </Bar>
          <Area dataKey="volMa" type="monotone" stroke="rgba(150,153,165,0.35)" strokeWidth={2} fill="rgba(130,134,148,0.22)" connectNulls dot={false} activeDot={false} isAnimationActive={false} zIndex={350} />
        </ComposedChart>
      </div>

      {/* legends */}
      <div style={abs(37, 69, { fontSize: 24, lineHeight: '34px', color: '#d1d4dc', whiteSpace: 'nowrap' })}>
        <span>Ethereum / Bitcoin, 1D, BINANCE</span>
        <span style={{ marginLeft: 14, color: TEXT }}>O</span><span style={{ color: GREEN }}>{last.open.toFixed(5)}</span>
        <span style={{ marginLeft: 14, color: TEXT }}>H</span><span style={{ color: GREEN }}>{last.high.toFixed(5)}</span>
        <span style={{ marginLeft: 14, color: TEXT }}>L</span><span style={{ color: GREEN }}>{last.low.toFixed(5)}</span>
        <span style={{ marginLeft: 14, color: TEXT }}>C</span><span style={{ color: GREEN }}>{last.close.toFixed(5)}</span>
      </div>
      <div style={abs(37, 102, { fontSize: 24, lineHeight: '34px', color: TEXT, whiteSpace: 'nowrap' })}>
        <span>MA</span>
        <span style={{ marginLeft: 14, color: '#ffffff' }}>{lastMa50.toFixed(5)}</span>
        <span style={{ marginLeft: 14, color: '#e0343f' }}>{lastMa200.toFixed(5)}</span>
      </div>
      <div style={abs(37, 1161, { fontSize: 24, lineHeight: '34px', color: '#d1d4dc', whiteSpace: 'nowrap' })}>
        <span>Vol USD</span>
        <span style={{ marginLeft: 14, color: GREEN }}>{Math.round(last.vol * 1000)}</span>
        <span style={{ marginLeft: 14, color: '#787b86' }}>2.04 K</span>
      </div>

      {/* currency button */}
      <div style={abs(2152, 65, { width: 127, height: 47, boxSizing: 'border-box', border: '1.5px solid #2e3240', borderRadius: 7, background: '#131722', color: '#d1d4dc', fontSize: 22, lineHeight: '44px', paddingLeft: 18, letterSpacing: 1 })}>
        BTC
      </div>

      {/* footer */}
      <div style={abs(19, 1416, { display: 'flex', alignItems: 'center', gap: 7 })}>
        <Logo />
        <span style={{ color: '#e1e3ea', fontSize: 24, fontWeight: 600, letterSpacing: 0 }}>TradingView</span>
      </div>
    </div>
  );
}
